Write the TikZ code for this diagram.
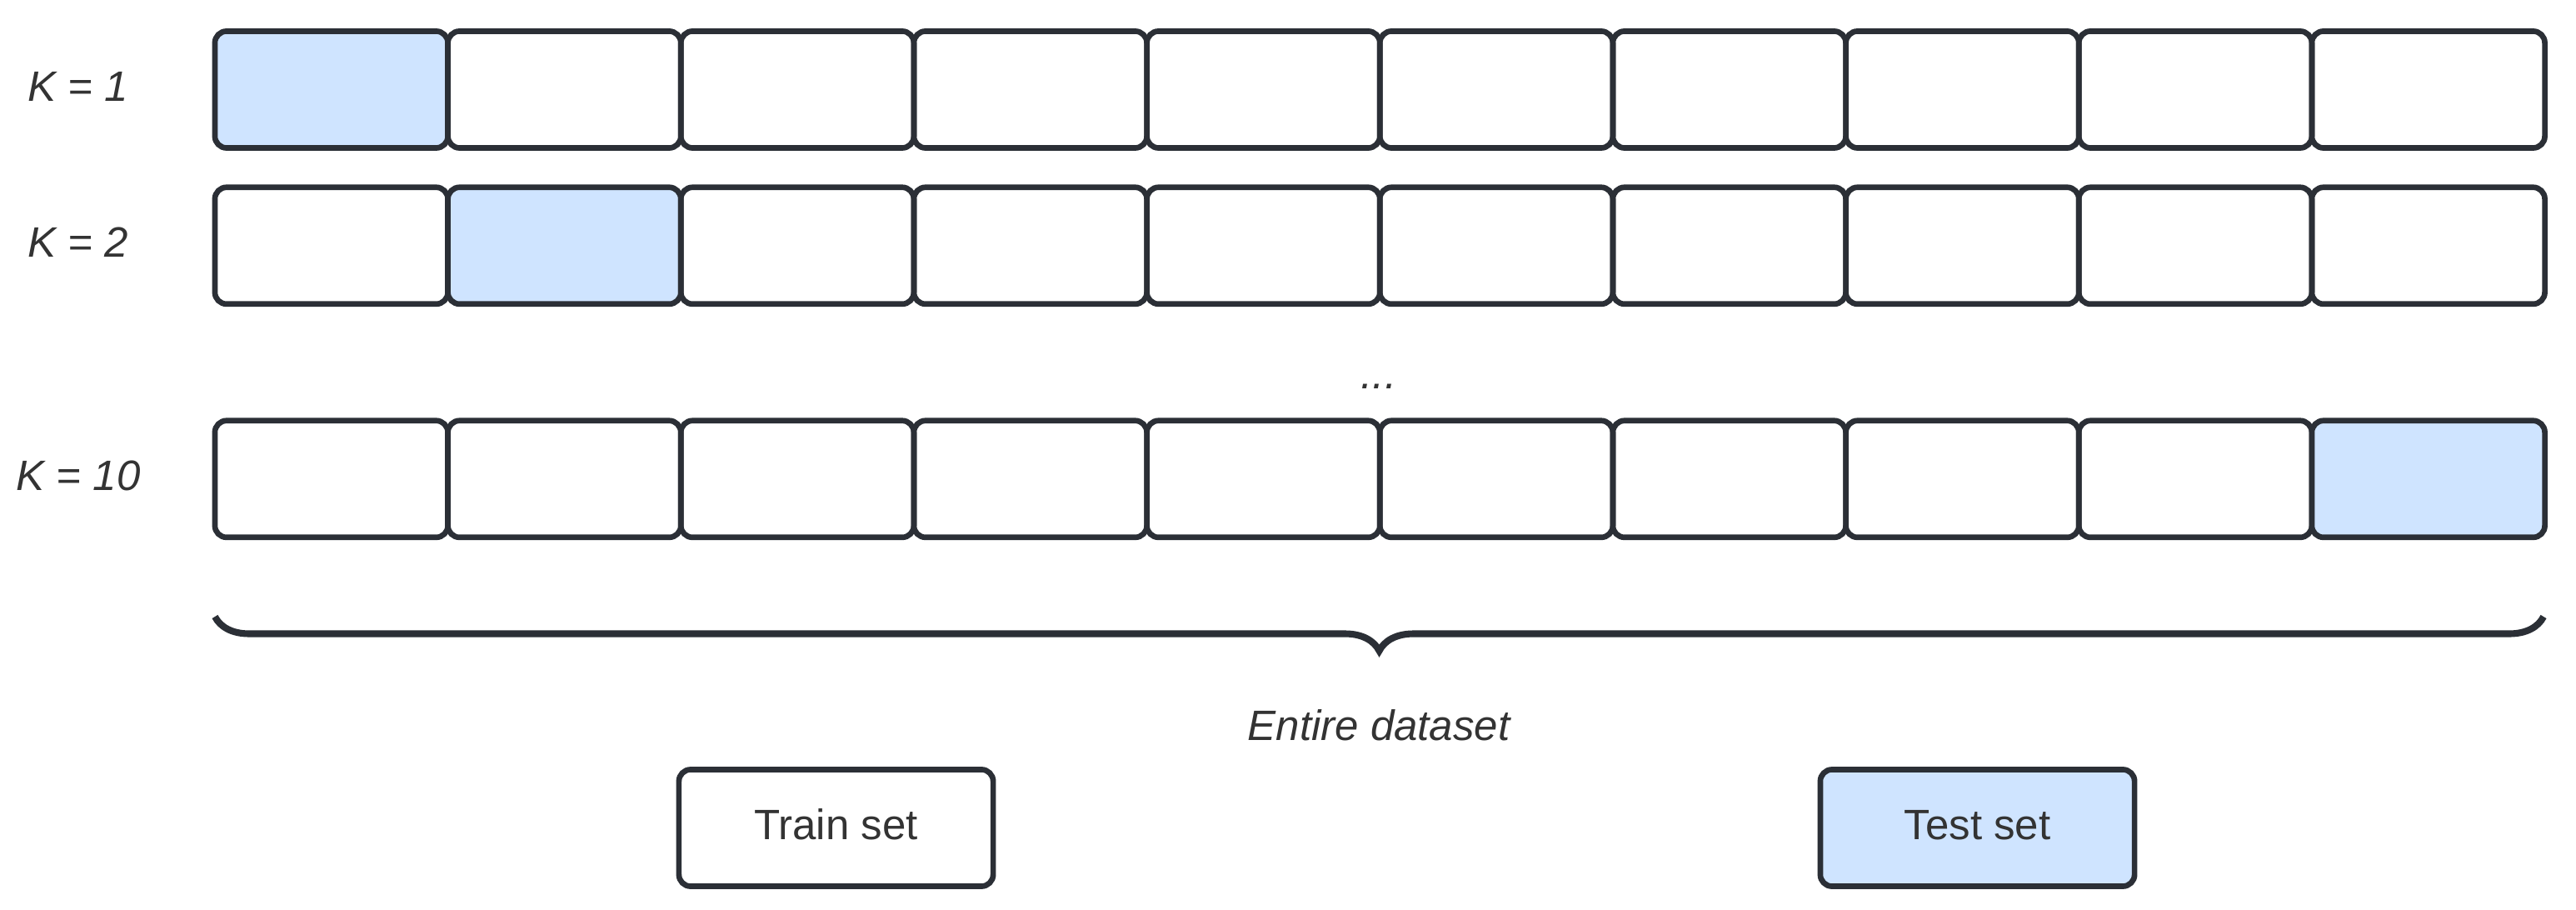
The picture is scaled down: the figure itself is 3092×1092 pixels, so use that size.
\documentclass[tikz,border=0pt]{standalone}
\usepackage{fontspec}
\setmainfont{Liberation Sans}
\usepackage{tikz}
\usetikzlibrary{positioning, decorations.pathreplacing}
\usepackage{xcolor}
\definecolor{edge}{HTML}{2B2F36}
\definecolor{testblue}{HTML}{CFE4FF}
\definecolor{txt}{HTML}{333333}

\tikzset{
  fold/.style = {draw=edge, line width=1.9pt, rounded corners=4pt, minimum width=2.795cm, minimum height=1.4cm, outer sep=0pt, inner sep=0pt, text=txt, font=\fontsize{14.5}{17}\selectfont},
  testfold/.style = {fold, fill=testblue},
  lbl/.style = {text=txt, font=\fontsize{14.5}{17}\selectfont\itshape}
}

\begin{document}
\begin{tikzpicture}[x=0.01cm, y=-0.01cm]
  \useasboundingbox (0,0) rectangle (3092,1092);
  % one row of ten folds per K, the test fold is blue
  \foreach \k/\y in {1/107.5, 2/294.8, 10/574.8} {
    \node[lbl] (k\k) at (94,\y-4) {K = \k};
    \ifnum\k=1 \def\sty{testfold}\else\def\sty{fold}\fi
    \node[\sty] (r\k-1) at (397.75,\y) {};
    \foreach \i in {2,...,10} {
      \pgfmathtruncatemacro\prev{\i-1}
      \ifnum\i=\k \def\sty{testfold}\else\def\sty{fold}\fi
      \node[\sty, right=0pt of r\k-\prev] (r\k-\i) {};
    }
  }
  \node[lbl] (dots) at (1655,464) {...};
  % brace under all folds
  \coordinate (bl) at (258,740);
  \coordinate (br) at (3053,740);
  \draw[edge, line width=2.3pt, decorate, decoration={brace, mirror, amplitude=0.41cm}] (bl) -- (br);
  \node[lbl] (all) at (1655,870) {Entire dataset};
  % legend
  \node[fold, minimum width=3.77cm, text depth=0.08cm] (train) at (1003.5,993.5) {Train set};
  \node[testfold, minimum width=3.77cm, text depth=0.08cm] (test) at (2373.5,993.5) {Test set};
\end{tikzpicture}
\end{document}
